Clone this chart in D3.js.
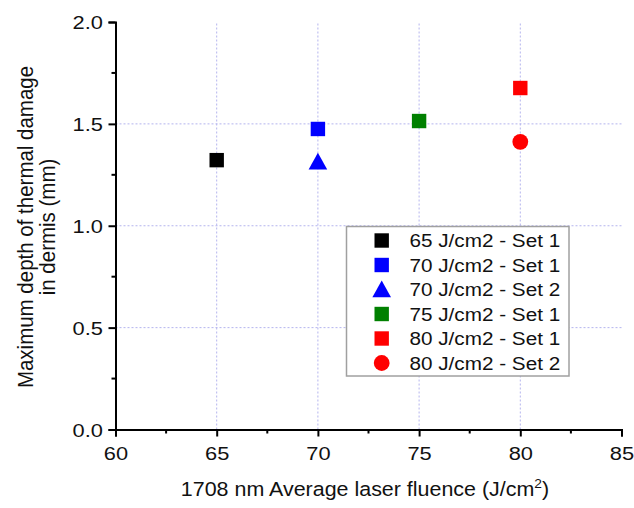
<!DOCTYPE html>
<html><head><meta charset="utf-8">
<script src="https://cdn.jsdelivr.net/npm/d3@7/dist/d3.min.js"></script>
<style>body{margin:0;background:#fff;} svg{display:block;font-family:"Liberation Sans",Arial,sans-serif;}</style>
</head><body>
<svg id="c" width="634" height="508"></svg>
<script>
const seriesNames = ["65 J/cm2 - Set 1","70 J/cm2 - Set 1","70 J/cm2 - Set 2","75 J/cm2 - Set 1","80 J/cm2 - Set 1","80 J/cm2 - Set 2"];
const fluence = [65, 70, 70, 75, 80, 80];
const depth = [1.322, 1.475, 1.314, 1.514, 1.676, 1.412];
const colors = ["#000000","#0000ff","#0000ff","#008000","#ff0000","#ff0000"];
const shapes = ["square","square","triangle","square","square","circle"];
const xTicks = [60,65,70,75,80,85];
const yTicks = [0.0,0.5,1.0,1.5,2.0];
const xMinor = [62.5,67.5,72.5,77.5,82.5];
const yMinor = [0.25,0.75,1.25,1.75];
const xGrid = [65,70,75,80];
const yGrid = [0.5,1.0,1.5];

const svg = d3.select("#c");
const x = d3.scaleLinear().domain([60,85]).range([115.5,621.5]);
const y = d3.scaleLinear().domain([0,2]).range([429.5,22]);

function stretch(sel, sx){
  sel.each(function(){
    const t = d3.select(this);
    const x0 = +t.attr("x") || 0;
    t.attr("transform", `translate(${x0},0) scale(${sx},1) translate(${-x0},0)`);
  });
}

// grid
const grid = svg.append("g").attr("stroke","#b4b4ee").attr("stroke-width",1).attr("stroke-dasharray","2,2");
xGrid.forEach(v=>grid.append("line").attr("x1",x(v)).attr("x2",x(v)).attr("y1",y(0)).attr("y2",y(2)));
yGrid.forEach(v=>grid.append("line").attr("x1",x(60)).attr("x2",x(85)).attr("y1",y(v)).attr("y2",y(v)));

// axes
const xAxis = d3.axisBottom(x).tickValues(xTicks).tickFormat(d3.format("d")).tickSizeOuter(0).tickSize(7);
const gx = svg.append("g").attr("transform",`translate(0,${y(0)})`).call(xAxis);
const yAxis = d3.axisLeft(y).tickValues(yTicks).tickFormat(d3.format(".1f")).tickSizeOuter(0).tickSize(7);
const gy = svg.append("g").attr("transform",`translate(${x(60)},0)`).call(yAxis);
[gx,gy].forEach(g=>{
  g.attr("font-family",null).attr("font-size",null);
  g.select(".domain").attr("stroke","#000").attr("stroke-width",2);
  g.selectAll(".tick line").attr("stroke","#000").attr("stroke-width",2);
  g.selectAll(".tick text").attr("font-size",19).attr("fill","#111");
});
gx.selectAll(".tick text").attr("y",30.5).attr("dy",null);
gy.selectAll(".tick text").attr("x",-12.5).attr("dy","0.36em");
stretch(gx.selectAll(".tick text"),1.15);
stretch(gy.selectAll(".tick text"),1.15);
// minor ticks
const minor = svg.append("g").attr("stroke","#000").attr("stroke-width",2);
xMinor.forEach(v=>minor.append("line").attr("x1",x(v)).attr("x2",x(v)).attr("y1",y(0)).attr("y2",y(0)+4));
yMinor.forEach(v=>minor.append("line").attr("x1",x(60)-4).attr("x2",x(60)).attr("y1",y(v)).attr("y2",y(v)));

// markers
function drawMarker(g, shape, cx, cy, color){
  if(shape==="square") g.append("rect").attr("x",cx-7.2).attr("y",cy-7.2).attr("width",14.4).attr("height",14.4).attr("fill",color);
  else if(shape==="triangle") g.append("path").attr("d",`M${cx},${cy-9}L${cx+9.3},${cy+7.7}L${cx-9.3},${cy+7.7}Z`).attr("fill",color);
  else g.append("circle").attr("cx",cx).attr("cy",cy).attr("r",7.9).attr("fill",color);
}
const pts = svg.append("g");
fluence.forEach((f,i)=>drawMarker(pts, shapes[i], x(f), y(depth[i]), colors[i]));

// legend
const lg = svg.append("g");
lg.append("rect").attr("x",346.5).attr("y",226.5).attr("width",222.5).attr("height",149.5).attr("fill","#fff").attr("stroke","#a0a0a0").attr("stroke-width",1.5);
seriesNames.forEach((n,i)=>{
  const cy = 240.5 + i*24.5;
  drawMarker(lg, shapes[i], 381.7, cy, colors[i]);
  const t = lg.append("text").attr("x",409.5).attr("y",cy+6.8).attr("font-size",19).attr("fill","#111").text(n);
  stretch(t,1.09);
});

// axis titles
const xt = svg.append("text").attr("x",365).attr("y",496).attr("text-anchor","middle").attr("font-size",19.5).attr("fill","#111");
xt.append("tspan").text("1708 nm Average laser fluence (J/cm");
xt.append("tspan").attr("dy",-8).attr("font-size",12.5).text("2");
xt.append("tspan").attr("dy",8).text(")");
stretch(xt,1.1);

const ytg = svg.append("g").attr("transform","translate(0,227) scale(1.12,1) rotate(-90)");
const yt = ytg.append("text").attr("text-anchor","middle").attr("font-size",20.5).attr("fill","#111");
yt.append("tspan").attr("x",0).attr("y",29.5).text("Maximum depth of thermal damage");
yt.append("tspan").attr("x",0).attr("y",49).text("in dermis (mm)");
</script>
</body></html>
